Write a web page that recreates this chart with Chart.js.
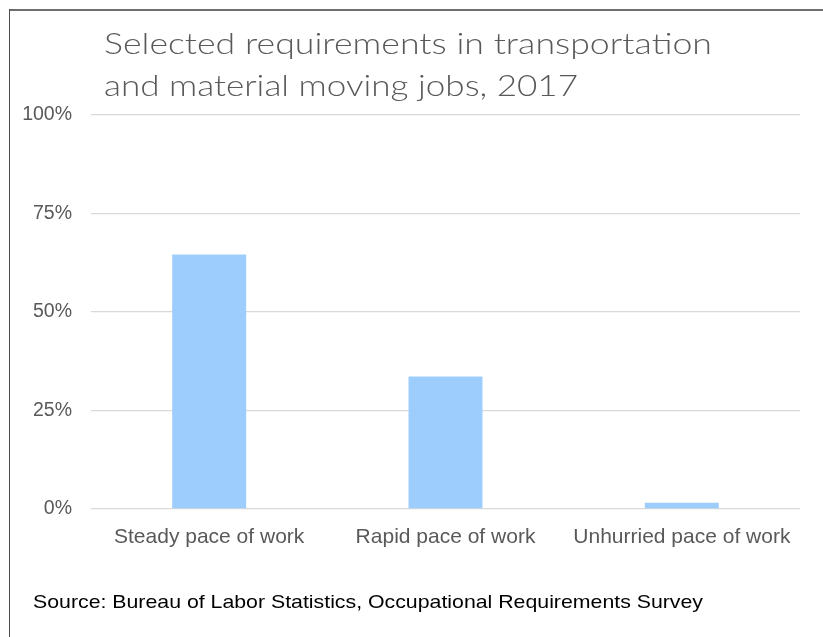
<!DOCTYPE html>
<html>
<head>
<meta charset="utf-8">
<script src="https://cdn.jsdelivr.net/npm/chart.js@4"></script>
<style>
  html, body { margin: 0; padding: 0; background: #ffffff; }
  #wrap { position: relative; width: 823px; height: 637px; overflow: hidden; background: #fff; }
  #c { position: absolute; left: 0; top: 0; }
  #overlay { position: absolute; left: 0; top: 0; pointer-events: none; }
</style>
</head>
<body>
<div id="wrap">
  <canvas id="c" width="823" height="637"></canvas>
  <svg id="overlay" width="823" height="637" xmlns="http://www.w3.org/2000/svg">
    <line x1="9.5" y1="10" x2="823" y2="10" stroke="#6e6e6e" stroke-width="2"/>
    <line x1="9.5" y1="9" x2="9.5" y2="637" stroke="#4d4d4d" stroke-width="1"/>
    <text id="t1" x="104" y="54" fill="#595959" font-family="Lato, 'Open Sans', sans-serif" font-weight="300" font-size="30"></text>
    <text id="t2" x="104" y="96" fill="#595959" font-family="Lato, 'Open Sans', sans-serif" font-weight="300" font-size="30"></text>
    <text id="src" x="33" y="608" fill="#000000" font-family="'Liberation Sans', Arial, sans-serif" font-size="19"></text>
  </svg>
</div>
<script>
// ---- data ----
const titleLines = ["Selected requirements in transportation", "and material moving jobs, 2017"];
const sourceText = "Source: Bureau of Labor Statistics, Occupational Requirements Survey";
const categories = ["Steady pace of work", "Rapid pace of work", "Unhurried pace of work"];
const shareValues = [64.6, 33.6, 1.6];
const yTickValues = [0, 25, 50, 75, 100];
const yTickSuffix = "%";

// ---- text overlay ----
const t1 = document.getElementById('t1');
const t2 = document.getElementById('t2');
const src = document.getElementById('src');
t1.textContent = titleLines[0];
t2.textContent = titleLines[1];
src.textContent = sourceText;
// fit text widths to the reference spans
t1.setAttribute('textLength', '608');
t1.setAttribute('lengthAdjust', 'spacingAndGlyphs');
t2.setAttribute('textLength', '474');
t2.setAttribute('lengthAdjust', 'spacingAndGlyphs');
src.setAttribute('textLength', '670');
src.setAttribute('lengthAdjust', 'spacingAndGlyphs');

// ---- chart ----
const ctx = document.getElementById('c').getContext('2d');
new Chart(ctx, {
  type: 'bar',
  data: {
    labels: categories,
    datasets: [{
      data: shareValues,
      backgroundColor: '#9dcdfd',
      borderWidth: 0,
      categoryPercentage: 1.0,
      barPercentage: 0.313
    }]
  },
  options: {
    responsive: false,
    devicePixelRatio: 1,
    animation: false,
    layout: { padding: { left: 0, right: 23, top: 115, bottom: 68 } },
    plugins: {
      legend: { display: false },
      tooltip: { enabled: false },
      title: { display: false }
    },
    scales: {
      x: {
        grid: { display: false, drawTicks: false },
        border: { display: false },
        ticks: {
          color: '#595959',
          font: { family: "'Liberation Sans', Arial, sans-serif", size: 21 },
          padding: 16,
          maxRotation: 0,
          autoSkip: false
        },
        afterFit: (s) => { s.height = 60; }
      },
      y: {
        min: 0,
        max: 100,
        afterBuildTicks: (s) => { s.ticks = yTickValues.map(v => ({ value: v })); },
        grid: { color: '#d9d9d9', lineWidth: 1.3, drawTicks: false },
        border: { display: false },
        ticks: {
          color: '#595959',
          font: { family: "'Liberation Sans', Arial, sans-serif", size: 19.5 },
          padding: 19,
          callback: (v) => v + yTickSuffix
        },
        afterFit: (s) => { s.width = 91; }
      }
    }
  }
});
</script>
</body>
</html>
